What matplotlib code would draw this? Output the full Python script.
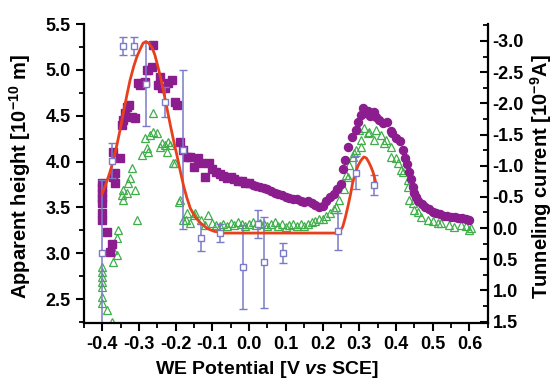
import numpy as np
import matplotlib
matplotlib.use('Agg')
import matplotlib.pyplot as plt
from matplotlib.ticker import MultipleLocator, FuncFormatter

plt.rcParams['font.family'] = ['Liberation Sans', 'DejaVu Sans']
plt.rcParams['font.weight'] = 'bold'
plt.rcParams['axes.unicode_minus'] = False
plt.rcParams['mathtext.fontset'] = 'custom'
plt.rcParams['mathtext.rm'] = 'Liberation Sans:bold'
plt.rcParams['mathtext.bf'] = 'Liberation Sans:bold'
plt.rcParams['mathtext.it'] = 'Liberation Sans:italic:bold'
plt.rcParams['mathtext.default'] = 'bf'

# purple squares (tunneling current, right axis)
psq_x = [-0.400, -0.400, -0.400, -0.400, -0.400, -0.400, -0.400, -0.386, -0.378, -0.373,
         -0.370, -0.364, -0.364, -0.370, -0.351, -0.345, -0.343, -0.337, -0.332, -0.326,
         -0.318, -0.310, -0.302, -0.296, -0.288, -0.283, -0.277, -0.274, -0.263, -0.261,
         -0.247, -0.242, -0.236, -0.228, -0.220, -0.209, -0.201, -0.195, -0.187, -0.179,
         -0.168, -0.160, -0.151, -0.140, -0.132, -0.119, -0.110, -0.100, -0.090, -0.080,
         -0.070, -0.060, -0.050, -0.040, -0.030, -0.020, -0.010, 0.000]
psq_y = [-0.72, -0.64, -0.56, -0.48, -0.40, -0.24, -0.13, 0.06, 0.38, 0.26,
         -0.82, -0.72, -0.88, -1.22, -1.12, -1.65, -1.73, -1.84, -1.94, -1.97,
         -1.78, -1.76, -2.32, -2.29, -2.32, -2.34, -2.53, -2.53, -2.58, -2.93,
         -2.29, -2.42, -2.24, -2.24, -2.32, -2.37, -2.02, -1.97, -1.38, -1.25,
         -1.14, -1.14, -0.98, -1.12, -1.04, -0.82, -1.04, -0.95, -0.90, -0.86,
         -0.84, -0.80, -0.82, -0.78, -0.76, -0.75, -0.72, -0.73]

# purple circles (right axis)
pci_x = [0.01, 0.02, 0.03, 0.04, 0.05, 0.06, 0.07, 0.08, 0.09, 0.10,
         0.11, 0.12, 0.13, 0.14, 0.15, 0.16, 0.17, 0.18, 0.19, 0.20,
         0.21, 0.22, 0.23, 0.24, 0.25, 0.255, 0.26, 0.27, 0.28, 0.29,
         0.297, 0.305, 0.31, 0.318, 0.325, 0.33, 0.34, 0.345, 0.355, 0.365,
         0.375, 0.385, 0.39, 0.40, 0.41, 0.42, 0.425, 0.43, 0.435, 0.44,
         0.445, 0.45, 0.455, 0.46, 0.47, 0.48, 0.49, 0.50, 0.51, 0.52,
         0.53, 0.54, 0.55, 0.56, 0.57, 0.58, 0.59, 0.60]
pci_y = [-0.69, -0.67, -0.66, -0.64, -0.62, -0.60, -0.57, -0.55, -0.53, -0.50,
         -0.49, -0.46, -0.47, -0.43, -0.41, -0.44, -0.40, -0.37, -0.33, -0.36,
         -0.44, -0.50, -0.55, -0.62, -0.70, -0.95, -1.09, -1.30, -1.46, -1.58,
         -1.70, -1.82, -1.92, -1.85, -1.88, -1.80, -1.86, -1.78, -1.73, -1.68,
         -1.70, -1.56, -1.52, -1.45, -1.40, -1.25, -1.12, -1.02, -0.90, -0.78,
         -0.66, -0.57, -0.50, -0.43, -0.38, -0.33, -0.30, -0.26, -0.24, -0.22,
         -0.20, -0.19, -0.18, -0.18, -0.16, -0.16, -0.15, -0.13]

# green open triangles (right axis)
gr_x = [-0.400, -0.400, -0.400, -0.400, -0.400, -0.400, -0.400, -0.386, -0.373, -0.370,
        -0.359, -0.370, -0.359, -0.356, -0.345, -0.343, -0.343, -0.332, -0.329, -0.323,
        -0.318, -0.310, -0.304, -0.291, -0.283, -0.277, -0.274, -0.269, -0.261, -0.261,
        -0.250, -0.242, -0.236, -0.228, -0.223, -0.220, -0.214, -0.206, -0.201, -0.192,
        -0.187, -0.181, -0.173, -0.168, -0.160, -0.151, -0.146, -0.132, -0.119, -0.113,
        -0.10, -0.09, -0.08, -0.07, -0.06, -0.05, -0.04, -0.03, -0.02, -0.01,
        0.00, 0.01, 0.02, 0.03, 0.04, 0.05, 0.06, 0.07, 0.08, 0.09,
        0.10, 0.11, 0.12, 0.13, 0.14, 0.15, 0.16, 0.17, 0.18, 0.19,
        0.20, 0.21, 0.22, 0.23, 0.237, 0.245, 0.258, 0.264, 0.269, 0.272,
        0.283, 0.286, 0.291, 0.299, 0.305, 0.305, 0.313, 0.324, 0.327, 0.340,
        0.346, 0.360, 0.368, 0.373, 0.387, 0.387, 0.401, 0.406, 0.414, 0.420,
        0.433, 0.433, 0.436, 0.447, 0.450, 0.461, 0.469, 0.488, 0.500, 0.515,
        0.523, 0.543, 0.559, 0.578, 0.590, 0.600, 0.605]
gr_y = [0.63, 0.71, 0.79, 0.87, 0.95, 1.11, 1.20, 1.31, 1.51, 0.54,
        0.43, 0.35, 0.16, 0.03, -0.53, -0.45, -0.61, -0.56, -0.72, -0.80,
        -0.96, -0.61, -0.13, -1.17, -1.44, -1.28, -1.22, -1.49, -1.54, -1.84,
        -1.52, -1.30, -1.36, -1.33, -1.22, -1.38, -1.33, -1.04, -1.04, -0.42,
        -0.45, -0.13, -0.13, -0.24, -0.08, -0.21, -0.24, -0.13, -0.05, -0.21,
        -0.08, -0.05, -0.03, -0.07, -0.04, -0.08, -0.05, -0.10, -0.06, -0.04,
        -0.07, -0.10, -0.05, -0.08, -0.06, -0.03, -0.06, -0.09, -0.04, -0.06,
        -0.02, -0.05, -0.07, -0.04, -0.06, -0.03, -0.07, -0.10, -0.12, -0.15,
        -0.14, -0.20, -0.24, -0.30, -0.34, -0.45, -0.62, -0.85, -0.82, -1.01,
        -1.14, -1.20, -1.25, -1.57, -1.30, -1.41, -1.60, -1.52, -1.54, -1.41,
        -1.57, -1.49, -1.36, -1.41, -1.30, -1.14, -1.12, -1.04, -0.93, -0.90,
        -0.66, -0.77, -0.45, -0.40, -0.29, -0.26, -0.18, -0.13, -0.11, -0.08,
        -0.08, -0.05, -0.02, -0.05, -0.03, 0.03, 0.00]

# open squares with error bars (apparent height, left axis)
ht_x = [-0.400, -0.373, -0.343, -0.313, -0.280, -0.230, -0.180, -0.130, -0.080, -0.017,
        0.023, 0.040, 0.092, 0.242, 0.291, 0.340]
ht_y = [3.00, 4.01, 5.26, 5.26, 4.85, 4.65, 4.13, 3.17, 3.22, 2.85,
        3.32, 2.90, 3.00, 3.24, 3.88, 3.74]
ht_err = [0.80, 0.19, 0.10, 0.10, 0.46, 0.16, 0.87, 0.15, 0.10, 0.46,
          0.15, 0.50, 0.11, 0.20, 0.18, 0.11]

# red fitted curve (left axis)
fit_x = [-0.400, -0.392, -0.380, -0.369, -0.360, -0.351, -0.342, -0.333, -0.324, -0.314,
         -0.305, -0.296, -0.289, -0.281, -0.273, -0.264, -0.257, -0.251, -0.241, -0.232,
         -0.223, -0.214, -0.205, -0.196, -0.187, -0.178, -0.169, -0.160, -0.146, -0.132,
         -0.114, -0.096, -0.070, 0.242, 0.249, 0.255, 0.262, 0.269, 0.276, 0.282,
         0.289, 0.296, 0.304, 0.312, 0.319, 0.325, 0.331, 0.337, 0.342, 0.346]
fit_y = [3.65, 3.73, 3.87, 4.02, 4.18, 4.35, 4.54, 4.72, 4.89, 5.04,
         5.15, 5.23, 5.29, 5.31, 5.29, 5.24, 5.17, 5.08, 4.92, 4.75,
         4.57, 4.39, 4.22, 4.06, 3.89, 3.73, 3.60, 3.49, 3.39, 3.33,
         3.27, 3.24, 3.22, 3.22, 3.25, 3.29, 3.39, 3.51, 3.64, 3.77,
         3.87, 3.95, 4.01, 4.05, 4.04, 4.00, 3.95, 3.89, 3.82, 3.75]

purple = '#8c1d8e'
green = '#3fae4a'
blue = '#7a7ac8'
red = '#e8401c'

fig = plt.figure(figsize=(5.55, 3.83), dpi=100)
ax = fig.add_axes([0.151, 0.157, 0.728, 0.780])
ax2 = ax.twinx()

ax2.plot(gr_x, gr_y, '^', ms=6, mfc='none', mec=green, mew=0.9, ls='none')
ax2.plot(psq_x, psq_y, 's', ms=5.2, color=purple, ls='none')
ax2.plot(pci_x, pci_y, 'o', ms=5.8, color=purple, ls='none')

ax.errorbar(ht_x, ht_y, yerr=ht_err, fmt='s', ms=4.5, mfc='white', mec=blue, mew=1,
            ecolor=blue, elinewidth=1.1, capsize=3, capthick=1.1)
ax.plot(fit_x, fit_y, color=red, lw=2, solid_joinstyle='round')

ax.set_zorder(ax2.get_zorder() + 1)
ax.patch.set_visible(False)

ax.set_xlim(-0.45, 0.65)
ax.set_ylim(2.24, 5.5)
ax2.set_ylim(1.52, -3.27)

fmt = FuncFormatter(lambda v, p: f'{round(v, 1) + 0.0:.1f}')
ax.xaxis.set_major_locator(MultipleLocator(0.1))
ax.xaxis.set_minor_locator(MultipleLocator(0.05))
ax.xaxis.set_major_formatter(fmt)
ax.yaxis.set_major_locator(MultipleLocator(0.5))
ax.yaxis.set_minor_locator(MultipleLocator(0.25))
ax.yaxis.set_major_formatter(fmt)
ax2.yaxis.set_major_locator(MultipleLocator(0.5))
ax2.yaxis.set_minor_locator(MultipleLocator(0.25))
ax2.yaxis.set_major_formatter(fmt)

for a in (ax, ax2):
    a.spines['top'].set_visible(False)
    for s in a.spines.values():
        s.set_linewidth(1.6)
ax.spines['right'].set_visible(False)
ax2.spines['left'].set_visible(False)
ax2.spines['bottom'].set_visible(False)

ax.tick_params(which='major', direction='out', length=6, width=1.5, labelsize=13)
ax.tick_params(which='minor', direction='out', length=3.5, width=1.3)
ax2.tick_params(which='major', direction='in', length=6, width=1.5, labelsize=13)
ax2.tick_params(which='minor', direction='in', length=3.5, width=1.3)

ax.set_xlabel(r'WE Potential [V $\mathit{vs}$ SCE]', fontsize=14, fontweight='bold')
ax.xaxis.set_label_coords(0.453, -0.12)
ax.set_ylabel(r'Apparent height [10$^{-10}$ m]', fontsize=14.5, fontweight='bold')
ax.yaxis.set_label_coords(-0.125, 0.49)
ax2.set_ylabel(r'Tunneling current [10$^{-9}$A]', fontsize=14.5, fontweight='bold',
               rotation=90)
ax2.yaxis.set_label_coords(1.10, 0.49)

fig.savefig('out.png', dpi=100)
